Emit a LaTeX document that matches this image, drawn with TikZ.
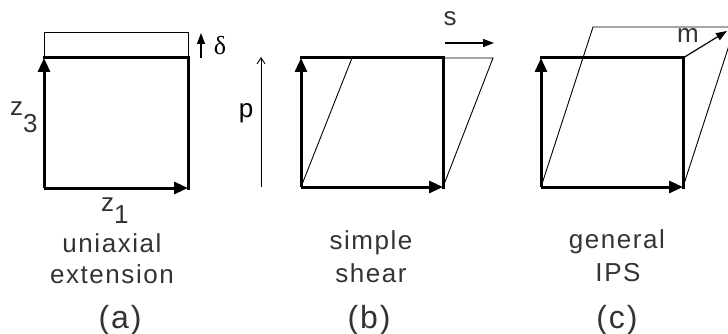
\documentclass[tikz,border=0pt]{standalone}
\usepackage{fontspec}
\setmainfont{Liberation Sans}[LetterSpace=6]
\newfontfamily\serifgr{Liberation Serif}
\usetikzlibrary{arrows.meta}
\tikzset{
  thickln/.style={line width=3pt, line cap=rect},
  axis/.style={line width=3pt, -{Triangle[length=14pt,width=12pt]}},
  thinln/.style={line width=0.9pt},
  marrow/.style={line width=1.2pt, -{Triangle[length=11pt,width=8pt]}},
  parrow/.style={line width=0.9pt, -{Straight Barb[length=6pt,width=8pt]}},
  lbl/.style={inner sep=0pt, anchor=base, font=\fontsize{26}{30}\selectfont, text=black!80},
  sub/.style={inner sep=0pt, anchor=base, font=\fontsize{32}{36}\selectfont, text=black!80},
}
\begin{document}
\begin{tikzpicture}[x=1pt,y=-1pt]
\useasboundingbox (0,0) rectangle (728,334);
\clip (0,0) rectangle (728,334);
% ---------- (a)
\coordinate (aO) at (44,188);
\coordinate (aX) at (188,188);
\coordinate (aZ) at (44,58);
\coordinate (aC) at (188,58);
\coordinate (aT1) at (44,32);
\coordinate (aT2) at (188,32);
\coordinate (dA) at (201,58);
\coordinate (dB) at (201,33);
\draw[thinln] (aZ) -- (aT1) -- (aT2) -- (aC);
\draw[thickln] (aZ) -- (aC) -- (aX);
\draw[axis] (aO) -- (aZ);
\draw[axis] (aO) -- (aX);
\draw[marrow] (dA) -- (dB);
\node[inner sep=0pt, anchor=base, font=\serifgr\fontsize{26}{28}\selectfont] (delta) at (220,55) {δ};
\node[lbl, anchor=base west] (z3) at (10,116) {z\raisebox{-17pt}{3}};
\node[lbl, anchor=base west] (z1) at (101,211) {z\raisebox{-12pt}{1}};
\node[lbl] (ua1) at (112,252) {uniaxial};
\node[lbl] (ua2) at (112,283) {extension};
\node[sub] (la) at (120,328) {(a)};
% ---------- (b)
\coordinate (bO) at (301,187);
\coordinate (bX) at (443,187);
\coordinate (bZ) at (301,58);
\coordinate (bC) at (443,58);
\coordinate (bS1) at (352,58);
\coordinate (bS2) at (493,58);
\coordinate (pA) at (261,187);
\coordinate (pB) at (261,57);
\coordinate (sA) at (445,43);
\coordinate (sB) at (494,43);
\draw[thinln] (bO) -- (bS1);
\draw[thinln] (bX) -- (bS2) -- (bC);
\draw[thickln] (bZ) -- (bC) -- (bX);
\draw[axis] (bO) -- (bZ);
\draw[axis] (bO) -- (bX);
\draw[parrow] (pA) -- (pB);
\draw[marrow] (sA) -- (sB);
\node[lbl, text=black] (p) at (246,118) {p};
\node[lbl] (s) at (450,26) {s};
\node[lbl] (sb1) at (371,249) {simple};
\node[lbl] (sb2) at (371,282) {shear};
\node[sub] (lb) at (369,328) {(b)};
% ---------- (c)
\coordinate (cO) at (541,187);
\coordinate (cX) at (683,187);
\coordinate (cZ) at (541,58);
\coordinate (cC) at (683,58);
\coordinate (cS1) at (593,27);
\coordinate (cS2) at (735,27);
\coordinate (mB) at (727,31);
\draw[thinln] (cO) -- (cS1) -- (cS2) -- (cX);
\draw[marrow] (cC) -- (mB);
\draw[thickln] (cZ) -- (cC) -- (cX);
\draw[axis] (cO) -- (cZ);
\draw[axis] (cO) -- (cX);
\node[lbl] (m) at (688,43) {m};
\node[lbl] (g1) at (617,248) {general};
\node[lbl] (g2) at (618,281) {IPS};
\node[sub] (lc) at (617,328) {(c)};
\end{tikzpicture}
\end{document}
